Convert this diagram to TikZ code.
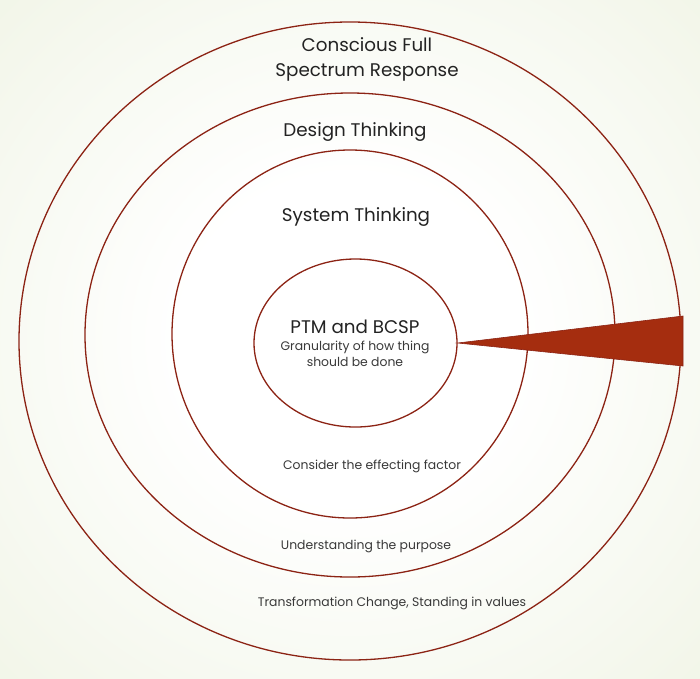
\documentclass[tikz,border=0pt]{standalone}
\usepackage{fontspec}
\setmainfont{Poppins}
\usetikzlibrary{shapes.geometric}
\definecolor{ringred}{RGB}{140,35,20}
\definecolor{wedgered}{RGB}{165,45,15}
\definecolor{bgouter}{RGB}{226,234,205}
\definecolor{txt}{RGB}{35,35,35}
\pgfdeclareradialshading{bgglow}{\pgfpoint{0bp}{0bp}}{color(0bp)=(white); color(12bp)=(white); color(64bp)=(bgouter); color(72bp)=(bgouter)}
\tikzset{
  ring/.style={draw=ringred, line width=1.3pt, ellipse, inner sep=0pt},
  title/.style={text=txt, font=\fontsize{18.3}{25}\selectfont, align=center},
  note/.style={text=txt!90, font=\fontsize{12.4}{16}\selectfont, align=center}
}
\begin{document}
\begin{tikzpicture}[x=1pt,y=-1pt]
  \shade[shading=bgglow] (0,0) rectangle (700,678);
  \useasboundingbox (0,0) rectangle (700,678);
  % rings, outside in
  \node (full) [ring, minimum width=662, minimum height=638] at (350,341) {};
  \node (design) [ring, minimum width=530, minimum height=484] at (350,335) {};
  \node (system) [ring, minimum width=356, minimum height=368] at (350,334) {};
  \node (core) [ring, minimum width=203, minimum height=168] at (355.5,343) {};
  % wedge
  \coordinate (wtop) at (683,316);
  \coordinate (wbot) at (683,366);
  \fill[wedgered, draw=ringred, line width=0.6pt] (core.east) -- (wtop) -- (wbot) -- cycle;
  % labels
  \node (fulltxt) [title] at (367,59) {Conscious Full\\Spectrum Response};
  \node (designtxt) [title] at (355,132) {Design Thinking};
  \node (systemtxt) [title] at (356,217) {System Thinking};
  \node (coretxt) [title] at (355,327) {PTM and BCSP};
  \node (gran) [note] at (355,354) {Granularity of how thing\\should be done};
  \node (factor) [note] at (372,466) {Consider the effecting factor};
  \node (purpose) [note] at (366,546) {Understanding the purpose};
  \node (values) [note] at (392,603) {Transformation Change, Standing in values};
\end{tikzpicture}
\end{document}
